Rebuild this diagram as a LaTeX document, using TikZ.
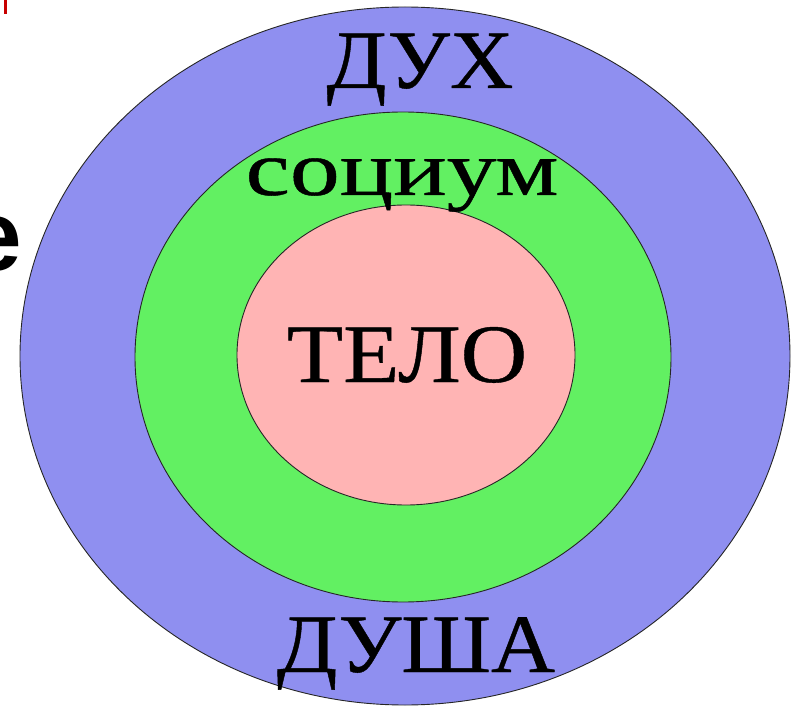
\documentclass[tikz,border=0pt]{standalone}
\usepackage{fontspec}
\setmainfont{Liberation Serif}[FakeBold=0.5]
\newfontfamily\slidesans{Liberation Sans}
\definecolor{outerblue}{RGB}{143,143,240}
\definecolor{midgreen}{RGB}{98,240,98}
\definecolor{innerpink}{RGB}{255,180,180}
\definecolor{markred}{RGB}{200,0,0}
\tikzset{
  ring/.style={draw=black!85, line width=0.9pt},
  lbl/.style={inner sep=0pt, anchor=base, text=black, font=\fontsize{83}{90}\selectfont},
}
\begin{document}
\begin{tikzpicture}[x=1pt,y=-1pt]
\useasboundingbox (0,0) rectangle (792,711);
\clip (0,0) rectangle (792,711);
\fill[white] (0,0) rectangle (792,711);
% outer ring
\draw[ring, fill=outerblue] (405,356) ellipse [x radius=385, y radius=349];
% middle ring
\draw[ring, fill=midgreen] (403,357) ellipse [x radius=268, y radius=245];
% inner circle
\draw[ring, fill=innerpink] (406,355) ellipse [x radius=169, y radius=150];
% labels
\node[lbl, xscale=1.06] (dukh) at (420,88) {ДУХ};
\node[lbl, xscale=1.28, font=\fontsize{78}{86}\selectfont] (socium) at (402,195) {социум};
\node[lbl, xscale=1.11] (telo) at (407,382) {ТЕЛО};
\node[lbl, xscale=1.07] (dusha) at (416,672) {ДУША};
% slide remnants
\fill[markred] (4,0) rectangle (7,14);
\node[inner sep=0pt, anchor=base east, font=\slidesans\bfseries\fontsize{100}{110}\selectfont] (frag) at (22,270) {е};
\end{tikzpicture}
\end{document}
